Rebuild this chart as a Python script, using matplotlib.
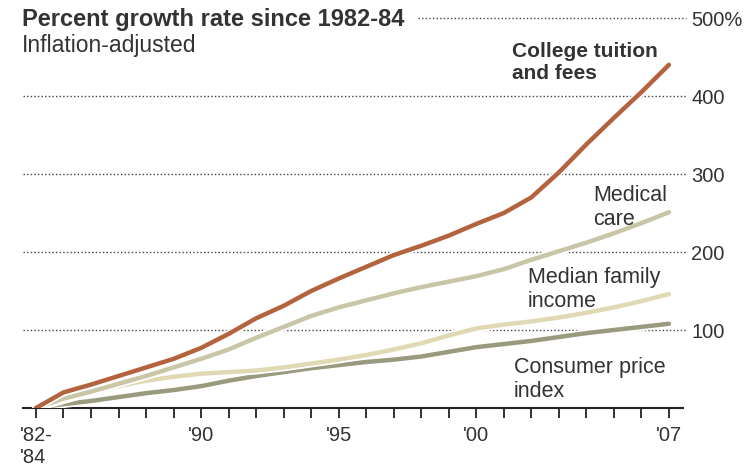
import numpy as np
import matplotlib
matplotlib.use("Agg")
import matplotlib.pyplot as plt
import matplotlib.patheffects as pe

plt.rcParams['font.family'] = ['Liberation Sans', 'DejaVu Sans']

# data, percent growth since 1982-84 (1984 = base point)
years = list(range(1984, 2008))
tuition = [0, 20, 30, 41, 52, 63, 77, 95, 115, 131, 150, 166, 181, 196, 208, 221,
           236, 250, 270, 302, 338, 372, 405, 440]
medical = [0, 12, 21, 31, 41, 52, 63, 75, 90, 104, 118, 129, 138, 147, 155, 162,
           169, 178, 190, 201, 212, 224, 237, 251]
income = [0, 10, 20, 28, 35, 40, 44, 46, 48, 52, 57, 62, 68, 75, 83, 93,
          102, 107, 111, 116, 122, 129, 137, 146]
cpi = [0, 5, 9, 14, 19, 23, 28, 35, 41, 46, 51, 55, 59, 62, 66, 72,
       78, 82, 86, 91, 96, 100, 104, 108]

grid_vals = [100, 200, 300, 400, 500]
grid_labels = ['100', '200', '300', '400', '500%']
xtick_pos = [1984, 1990, 1995, 2000, 2007]
xtick_labels = ["'82-\n'84", "'90", "'95", "'00", "'07"]

W, H = 748, 468
fig = plt.figure(figsize=(W / 100, H / 100), dpi=100)
# axes placed in pixel terms: x 23..683, y 18..408 (from top)
ax = fig.add_axes([23 / W, 1 - 408 / H, 660 / W, 390 / H])
ax.set_xlim(1983.53, 2007.51)
ax.set_ylim(0, 500)

txt = '#333333'

# dotted gridlines (500 line starts after the title)
for v in grid_vals:
    x0 = 0.598 if v == 500 else 0.0
    ax.plot([x0, 1.004], [v, v], transform=ax.get_yaxis_transform(),
            color='#444444', lw=1.0, ls=(0, (1, 1.6)), clip_on=False, zorder=1)

halo = lambda w: [pe.Stroke(linewidth=w + 2.5, foreground='white'), pe.Normal()]
lw = 3.2
ax.plot(years, cpi, color='#9a9a7e', lw=lw, solid_capstyle='round',
        solid_joinstyle='round', path_effects=halo(lw), zorder=3)
ax.plot(years, income, color='#e0d9b4', lw=lw, solid_capstyle='round',
        solid_joinstyle='round', path_effects=halo(lw), zorder=4)
ax.plot(years, medical, color='#c9c6a8', lw=lw, solid_capstyle='round',
        solid_joinstyle='round', path_effects=halo(lw), zorder=5)
ax.plot(years, tuition, color='#b3643f', lw=lw, solid_capstyle='round',
        solid_joinstyle='round', path_effects=halo(lw), zorder=6)

for s in ['top', 'left', 'right']:
    ax.spines[s].set_visible(False)
ax.spines['bottom'].set_linewidth(1.5)
ax.spines['bottom'].set_color('#222222')

ax.set_xticks(years, minor=True)
ax.set_xticks(xtick_pos, xtick_labels)
ax.tick_params(axis='x', which='both', direction='out', length=7, width=1.3,
               color='#222222', pad=6, labelsize=14.5, labelcolor=txt)
ax.get_xticklabels()[0].set_multialignment('left')
ax.get_xticklabels()[0].set_linespacing(1.2)

ax.yaxis.tick_right()
ax.set_yticks(grid_vals, grid_labels)
ax.tick_params(axis='y', length=0, pad=6, labelsize=14.5, labelcolor=txt)


def px(x, y):
    return x / W, 1 - y / H


fig.text(*px(22, 26), 'Percent growth rate since 1982-84', fontsize=17,
         fontweight='bold', color=txt, va='baseline')
fig.text(*px(22, 52), 'Inflation-adjusted', fontsize=16.5, color=txt, va='baseline')

# two-line labels: y is the baseline of the last line
fig.text(*px(512, 79), 'College tuition\nand fees', fontsize=15, fontweight='bold',
         color=txt, va='baseline', linespacing=1.2)
fig.text(*px(593, 225), 'Medical\ncare', fontsize=15.5, color=txt,
         va='baseline', linespacing=1.2)
fig.text(*px(528, 307), 'Median family\nincome', fontsize=15.5, color=txt,
         va='baseline', linespacing=1.2)
fig.text(*px(514, 397), 'Consumer price\nindex', fontsize=15.5, color=txt,
         va='baseline', linespacing=1.2)

fig.savefig('out.png', dpi=100)
